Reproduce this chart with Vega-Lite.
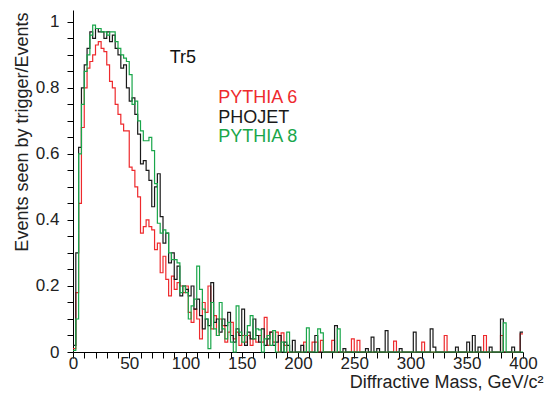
{
  "$schema": "https://vega.github.io/schema/vega-lite/v6.json",
  "width": 450,
  "height": 342,
  "autosize": {"type": "none"},
  "padding": {"left": 73, "top": 10, "right": 21, "bottom": 42},
  "background": "white",
  "config": {"view": {"stroke": null}, "font": "Liberation Sans"},
  "datasets": {
    "hist": [
      {"g":"PYTHIA 6","m":0,"f":0.01},{"g":"PYTHIA 6","m":2.5,"f":0.18},{"g":"PYTHIA 6","m":5,"f":0.45},{"g":"PYTHIA 6","m":7.5,"f":0.68},{"g":"PYTHIA 6","m":10,"f":0.8},{"g":"PYTHIA 6","m":12.5,"f":0.86},{"g":"PYTHIA 6","m":15,"f":0.88},{"g":"PYTHIA 6","m":17.5,"f":0.9},{"g":"PYTHIA 6","m":20,"f":0.93},{"g":"PYTHIA 6","m":22.5,"f":0.94},{"g":"PYTHIA 6","m":25,"f":0.92},{"g":"PYTHIA 6","m":27.5,"f":0.91},{"g":"PYTHIA 6","m":30,"f":0.87},{"g":"PYTHIA 6","m":32.5,"f":0.82},{"g":"PYTHIA 6","m":35,"f":0.8},{"g":"PYTHIA 6","m":37.5,"f":0.75},{"g":"PYTHIA 6","m":40,"f":0.72},{"g":"PYTHIA 6","m":42.5,"f":0.69},{"g":"PYTHIA 6","m":45,"f":0.67},{"g":"PYTHIA 6","m":47.5,"f":0.67},{"g":"PYTHIA 6","m":50,"f":0.56},{"g":"PYTHIA 6","m":52.5,"f":0.55},{"g":"PYTHIA 6","m":55,"f":0.5},{"g":"PYTHIA 6","m":57.5,"f":0.47},{"g":"PYTHIA 6","m":60,"f":0.36},{"g":"PYTHIA 6","m":62.5,"f":0.38},{"g":"PYTHIA 6","m":65,"f":0.4},{"g":"PYTHIA 6","m":67.5,"f":0.38},{"g":"PYTHIA 6","m":70,"f":0.37},{"g":"PYTHIA 6","m":72.5,"f":0.31},{"g":"PYTHIA 6","m":75,"f":0.33},{"g":"PYTHIA 6","m":77.5,"f":0.24},{"g":"PYTHIA 6","m":80,"f":0.29},{"g":"PYTHIA 6","m":82.5,"f":0.22},{"g":"PYTHIA 6","m":85,"f":0.17},{"g":"PYTHIA 6","m":87.5,"f":0.23},{"g":"PYTHIA 6","m":90,"f":0.19},{"g":"PYTHIA 6","m":92.5,"f":0.21},{"g":"PYTHIA 6","m":95,"f":0.2},{"g":"PYTHIA 6","m":97.5,"f":0.18},{"g":"PYTHIA 6","m":100,"f":0.2},{"g":"PYTHIA 6","m":102.5,"f":0.12},{"g":"PYTHIA 6","m":105,"f":0.09},{"g":"PYTHIA 6","m":107.5,"f":0.13},{"g":"PYTHIA 6","m":110,"f":0.1},{"g":"PYTHIA 6","m":112.5,"f":0.04},{"g":"PYTHIA 6","m":115,"f":0.15},{"g":"PYTHIA 6","m":117.5,"f":0.12},{"g":"PYTHIA 6","m":120,"f":0.2},{"g":"PYTHIA 6","m":122.5,"f":0.07},{"g":"PYTHIA 6","m":125,"f":0.11},{"g":"PYTHIA 6","m":127.5,"f":0.05},{"g":"PYTHIA 6","m":130,"f":0.1},{"g":"PYTHIA 6","m":132.5,"f":0.08},{"g":"PYTHIA 6","m":135,"f":0.03},{"g":"PYTHIA 6","m":137.5,"f":0.06},{"g":"PYTHIA 6","m":140,"f":0.09},{"g":"PYTHIA 6","m":142.5,"f":0.04},{"g":"PYTHIA 6","m":145,"f":0.06},{"g":"PYTHIA 6","m":147.5,"f":0.02},{"g":"PYTHIA 6","m":150,"f":0.05},{"g":"PYTHIA 6","m":152.5,"f":0.03},{"g":"PYTHIA 6","m":155,"f":0.05},{"g":"PYTHIA 6","m":157.5,"f":0.02},{"g":"PYTHIA 6","m":160,"f":0.04},{"g":"PYTHIA 6","m":162.5,"f":0.03},{"g":"PYTHIA 6","m":165,"f":0.05},{"g":"PYTHIA 6","m":167.5,"f":0.03},{"g":"PYTHIA 6","m":170,"f":0.105},{"g":"PYTHIA 6","m":172.5,"f":0.02},{"g":"PYTHIA 6","m":175,"f":0.06},{"g":"PYTHIA 6","m":177.5,"f":0.03},{"g":"PYTHIA 6","m":180,"f":0.06},{"g":"PYTHIA 6","m":182.5,"f":0},{"g":"PYTHIA 6","m":185,"f":0.058},{"g":"PYTHIA 6","m":187.5,"f":0.02},{"g":"PYTHIA 6","m":190,"f":0},{"g":"PYTHIA 6","m":205,"f":0.03},{"g":"PYTHIA 6","m":207.5,"f":0},{"g":"PYTHIA 6","m":212.5,"f":0.03},{"g":"PYTHIA 6","m":217.5,"f":0},{"g":"PYTHIA 6","m":220,"f":0.035},{"g":"PYTHIA 6","m":222.5,"f":0},{"g":"PYTHIA 6","m":230,"f":0.035},{"g":"PYTHIA 6","m":232.5,"f":0},{"g":"PYTHIA 6","m":247.5,"f":0.04},{"g":"PYTHIA 6","m":250,"f":0},{"g":"PYTHIA 6","m":252.5,"f":0.035},{"g":"PYTHIA 6","m":255,"f":0},{"g":"PYTHIA 6","m":285,"f":0.033},{"g":"PYTHIA 6","m":287.5,"f":0},{"g":"PYTHIA 6","m":310,"f":0.03},{"g":"PYTHIA 6","m":312.5,"f":0},{"g":"PYTHIA 6","m":330,"f":0.05},{"g":"PYTHIA 6","m":332.5,"f":0},{"g":"PYTHIA 6","m":365,"f":0.05},{"g":"PYTHIA 6","m":367.5,"f":0},{"g":"PYTHIA 6","m":380,"f":0.05},{"g":"PYTHIA 6","m":382.5,"f":0},{"g":"PYTHIA 6","m":397.5,"f":0.055},{"g":"PYTHIA 6","m":400,"f":0.055},

      {"g":"PHOJET","m":0,"f":0.02},{"g":"PHOJET","m":2.5,"f":0.3},{"g":"PHOJET","m":5,"f":0.62},{"g":"PHOJET","m":7.5,"f":0.8},{"g":"PHOJET","m":10,"f":0.87},{"g":"PHOJET","m":12.5,"f":0.92},{"g":"PHOJET","m":15,"f":0.97},{"g":"PHOJET","m":17.5,"f":0.95},{"g":"PHOJET","m":20,"f":0.98},{"g":"PHOJET","m":22.5,"f":0.97},{"g":"PHOJET","m":25,"f":0.97},{"g":"PHOJET","m":27.5,"f":0.95},{"g":"PHOJET","m":30,"f":0.97},{"g":"PHOJET","m":32.5,"f":0.94},{"g":"PHOJET","m":35,"f":0.96},{"g":"PHOJET","m":37.5,"f":0.92},{"g":"PHOJET","m":40,"f":0.9},{"g":"PHOJET","m":42.5,"f":0.86},{"g":"PHOJET","m":45,"f":0.87},{"g":"PHOJET","m":47.5,"f":0.8},{"g":"PHOJET","m":50,"f":0.76},{"g":"PHOJET","m":52.5,"f":0.77},{"g":"PHOJET","m":55,"f":0.72},{"g":"PHOJET","m":57.5,"f":0.66},{"g":"PHOJET","m":60,"f":0.57},{"g":"PHOJET","m":62.5,"f":0.58},{"g":"PHOJET","m":65,"f":0.55},{"g":"PHOJET","m":67.5,"f":0.52},{"g":"PHOJET","m":70,"f":0.44},{"g":"PHOJET","m":72.5,"f":0.5},{"g":"PHOJET","m":75,"f":0.54},{"g":"PHOJET","m":77.5,"f":0.41},{"g":"PHOJET","m":80,"f":0.33},{"g":"PHOJET","m":82.5,"f":0.36},{"g":"PHOJET","m":85,"f":0.27},{"g":"PHOJET","m":87.5,"f":0.3},{"g":"PHOJET","m":90,"f":0.22},{"g":"PHOJET","m":92.5,"f":0.26},{"g":"PHOJET","m":95,"f":0.17},{"g":"PHOJET","m":97.5,"f":0.2},{"g":"PHOJET","m":100,"f":0.19},{"g":"PHOJET","m":102.5,"f":0.17},{"g":"PHOJET","m":105,"f":0.2},{"g":"PHOJET","m":107.5,"f":0.13},{"g":"PHOJET","m":110,"f":0.16},{"g":"PHOJET","m":112.5,"f":0.11},{"g":"PHOJET","m":115,"f":0.07},{"g":"PHOJET","m":117.5,"f":0.1},{"g":"PHOJET","m":120,"f":0.08},{"g":"PHOJET","m":122.5,"f":0.21},{"g":"PHOJET","m":125,"f":0.09},{"g":"PHOJET","m":127.5,"f":0.1},{"g":"PHOJET","m":130,"f":0.06},{"g":"PHOJET","m":132.5,"f":0.1},{"g":"PHOJET","m":135,"f":0.08},{"g":"PHOJET","m":137.5,"f":0.12},{"g":"PHOJET","m":140,"f":0.05},{"g":"PHOJET","m":142.5,"f":0.03},{"g":"PHOJET","m":145,"f":0.07},{"g":"PHOJET","m":147.5,"f":0.05},{"g":"PHOJET","m":150,"f":0.13},{"g":"PHOJET","m":152.5,"f":0.02},{"g":"PHOJET","m":155,"f":0.06},{"g":"PHOJET","m":157.5,"f":0.04},{"g":"PHOJET","m":160,"f":0.1},{"g":"PHOJET","m":162.5,"f":0.05},{"g":"PHOJET","m":165,"f":0.03},{"g":"PHOJET","m":167.5,"f":0.07},{"g":"PHOJET","m":170,"f":0.02},{"g":"PHOJET","m":172.5,"f":0.04},{"g":"PHOJET","m":175,"f":0.06},{"g":"PHOJET","m":177.5,"f":0.02},{"g":"PHOJET","m":180,"f":0.03},{"g":"PHOJET","m":182.5,"f":0.05},{"g":"PHOJET","m":185,"f":0},{"g":"PHOJET","m":187.5,"f":0.03},{"g":"PHOJET","m":190,"f":0.02},{"g":"PHOJET","m":192.5,"f":0},{"g":"PHOJET","m":195,"f":0.035},{"g":"PHOJET","m":197.5,"f":0},{"g":"PHOJET","m":202.5,"f":0.02},{"g":"PHOJET","m":205,"f":0},{"g":"PHOJET","m":215,"f":0.05},{"g":"PHOJET","m":217.5,"f":0},{"g":"PHOJET","m":232.5,"f":0.08},{"g":"PHOJET","m":235,"f":0},{"g":"PHOJET","m":240,"f":0.01},{"g":"PHOJET","m":242.5,"f":0},{"g":"PHOJET","m":260,"f":0.01},{"g":"PHOJET","m":262.5,"f":0},{"g":"PHOJET","m":265,"f":0.045},{"g":"PHOJET","m":267.5,"f":0},{"g":"PHOJET","m":270,"f":0.01},{"g":"PHOJET","m":272.5,"f":0},{"g":"PHOJET","m":277.5,"f":0.065},{"g":"PHOJET","m":280,"f":0},{"g":"PHOJET","m":290,"f":0.01},{"g":"PHOJET","m":292.5,"f":0},{"g":"PHOJET","m":302.5,"f":0.06},{"g":"PHOJET","m":305,"f":0},{"g":"PHOJET","m":317.5,"f":0.07},{"g":"PHOJET","m":320,"f":0.015},{"g":"PHOJET","m":322.5,"f":0},{"g":"PHOJET","m":340,"f":0.015},{"g":"PHOJET","m":342.5,"f":0},{"g":"PHOJET","m":350,"f":0.03},{"g":"PHOJET","m":352.5,"f":0},{"g":"PHOJET","m":355,"f":0.05},{"g":"PHOJET","m":357.5,"f":0},{"g":"PHOJET","m":360,"f":0.015},{"g":"PHOJET","m":362.5,"f":0},{"g":"PHOJET","m":370,"f":0.015},{"g":"PHOJET","m":372.5,"f":0},{"g":"PHOJET","m":380,"f":0.1},{"g":"PHOJET","m":382.5,"f":0},{"g":"PHOJET","m":390,"f":0.015},{"g":"PHOJET","m":392.5,"f":0},{"g":"PHOJET","m":397.5,"f":0.06},{"g":"PHOJET","m":400,"f":0.06},

      {"g":"PYTHIA 8","m":0,"f":0.005},{"g":"PYTHIA 8","m":2.5,"f":0.1},{"g":"PYTHIA 8","m":5,"f":0.6},{"g":"PYTHIA 8","m":7.5,"f":0.75},{"g":"PYTHIA 8","m":10,"f":0.85},{"g":"PYTHIA 8","m":12.5,"f":0.9},{"g":"PYTHIA 8","m":15,"f":0.96},{"g":"PYTHIA 8","m":17.5,"f":0.99},{"g":"PYTHIA 8","m":20,"f":0.98},{"g":"PYTHIA 8","m":22.5,"f":0.98},{"g":"PYTHIA 8","m":25,"f":0.97},{"g":"PYTHIA 8","m":27.5,"f":0.97},{"g":"PYTHIA 8","m":30,"f":0.96},{"g":"PYTHIA 8","m":32.5,"f":0.97},{"g":"PYTHIA 8","m":35,"f":0.97},{"g":"PYTHIA 8","m":37.5,"f":0.94},{"g":"PYTHIA 8","m":40,"f":0.92},{"g":"PYTHIA 8","m":42.5,"f":0.9},{"g":"PYTHIA 8","m":45,"f":0.89},{"g":"PYTHIA 8","m":47.5,"f":0.88},{"g":"PYTHIA 8","m":50,"f":0.84},{"g":"PYTHIA 8","m":52.5,"f":0.75},{"g":"PYTHIA 8","m":55,"f":0.76},{"g":"PYTHIA 8","m":57.5,"f":0.7},{"g":"PYTHIA 8","m":60,"f":0.67},{"g":"PYTHIA 8","m":62.5,"f":0.64},{"g":"PYTHIA 8","m":65,"f":0.64},{"g":"PYTHIA 8","m":67.5,"f":0.65},{"g":"PYTHIA 8","m":70,"f":0.61},{"g":"PYTHIA 8","m":72.5,"f":0.51},{"g":"PYTHIA 8","m":75,"f":0.39},{"g":"PYTHIA 8","m":77.5,"f":0.36},{"g":"PYTHIA 8","m":80,"f":0.37},{"g":"PYTHIA 8","m":82.5,"f":0.36},{"g":"PYTHIA 8","m":85,"f":0.3},{"g":"PYTHIA 8","m":87.5,"f":0.28},{"g":"PYTHIA 8","m":90,"f":0.28},{"g":"PYTHIA 8","m":92.5,"f":0.27},{"g":"PYTHIA 8","m":95,"f":0.18},{"g":"PYTHIA 8","m":97.5,"f":0.2},{"g":"PYTHIA 8","m":100,"f":0.18},{"g":"PYTHIA 8","m":102.5,"f":0.1},{"g":"PYTHIA 8","m":105,"f":0.14},{"g":"PYTHIA 8","m":107.5,"f":0.16},{"g":"PYTHIA 8","m":110,"f":0.26},{"g":"PYTHIA 8","m":112.5,"f":0.19},{"g":"PYTHIA 8","m":115,"f":0.13},{"g":"PYTHIA 8","m":117.5,"f":0.1},{"g":"PYTHIA 8","m":120,"f":0.01},{"g":"PYTHIA 8","m":122.5,"f":0.15},{"g":"PYTHIA 8","m":125,"f":0.07},{"g":"PYTHIA 8","m":127.5,"f":0.05},{"g":"PYTHIA 8","m":130,"f":0.15},{"g":"PYTHIA 8","m":132.5,"f":0.07},{"g":"PYTHIA 8","m":135,"f":0.04},{"g":"PYTHIA 8","m":137.5,"f":0.09},{"g":"PYTHIA 8","m":140,"f":0.03},{"g":"PYTHIA 8","m":142.5,"f":0},{"g":"PYTHIA 8","m":145,"f":0.14},{"g":"PYTHIA 8","m":147.5,"f":0.06},{"g":"PYTHIA 8","m":150,"f":0.03},{"g":"PYTHIA 8","m":152.5,"f":0.05},{"g":"PYTHIA 8","m":155,"f":0.08},{"g":"PYTHIA 8","m":157.5,"f":0.11},{"g":"PYTHIA 8","m":160,"f":0.04},{"g":"PYTHIA 8","m":162.5,"f":0.07},{"g":"PYTHIA 8","m":165,"f":0.067},{"g":"PYTHIA 8","m":167.5,"f":0},{"g":"PYTHIA 8","m":170,"f":0.04},{"g":"PYTHIA 8","m":172.5,"f":0.05},{"g":"PYTHIA 8","m":175,"f":0.02},{"g":"PYTHIA 8","m":177.5,"f":0.065},{"g":"PYTHIA 8","m":180,"f":0},{"g":"PYTHIA 8","m":185,"f":0.03},{"g":"PYTHIA 8","m":187.5,"f":0},{"g":"PYTHIA 8","m":190,"f":0.06},{"g":"PYTHIA 8","m":192.5,"f":0},{"g":"PYTHIA 8","m":207.5,"f":0.073},{"g":"PYTHIA 8","m":210,"f":0},{"g":"PYTHIA 8","m":217.5,"f":0.07},{"g":"PYTHIA 8","m":220,"f":0.058},{"g":"PYTHIA 8","m":222.5,"f":0},{"g":"PYTHIA 8","m":235,"f":0.07},{"g":"PYTHIA 8","m":237.5,"f":0},{"g":"PYTHIA 8","m":382.5,"f":0.088},{"g":"PYTHIA 8","m":385,"f":0},{"g":"PYTHIA 8","m":400,"f":0}
    ],
    "labels": [
      {"g": "PYTHIA 6", "m": 129, "f": 0.77},
      {"g": "PHOJET", "m": 129, "f": 0.709},
      {"g": "PYTHIA 8", "m": 129, "f": 0.652}
    ],
    "title": [{"t": "Tr5", "m": 86, "f": 0.891}],
    "edge": [{"m": 400}]
  },
  "encoding": {
    "x": {
      "field": "m", "type": "quantitative",
      "scale": {"domain": [0, 400], "nice": false, "zero": false},
      "axis": {
        "values": [0,10,20,30,40,50,60,70,80,90,100,110,120,130,140,150,160,170,180,190,200,210,220,230,240,250,260,270,280,290,300,310,320,330,340,350,360,370,380,390,400],
        "labelExpr": "datum.value % 50 === 0 ? '' + datum.value : ''",
        "ticks": true,
        "tickSize": 6,
        "labelPadding": -3,
        "labelFlush": false,
        "labelOverlap": false,
        "grid": false,
        "domainColor": "#000",
        "tickColor": "#000",
        "tickWidth": 1,
        "labelFontSize": 17,
        "labelColor": "#222",
        "title": "Diffractive Mass, GeV/c²",
        "titleFontSize": 18,
        "titleFontWeight": "normal",
        "titleColor": "#222",
        "titleAnchor": "end",
        "titleAlign": "right",
        "titleBaseline": "alphabetic",
        "titleX": 470,
        "titleY": 35,
        "encode": {"ticks": {"update": {"y2": {"signal": "datum.value % 50 === 0 ? -11 : -6"}}}}
      }
    },
    "y": {
      "field": "f", "type": "quantitative",
      "scale": {"domain": [0, 1.036], "nice": false},
      "axis": {
        "values": [0,0.05,0.1,0.15,0.2,0.25,0.3,0.35,0.4,0.45,0.5,0.55,0.6,0.65,0.7,0.75,0.8,0.85,0.9,0.95,1],
        "labelExpr": "round(datum.value*100) % 20 === 0 ? format(datum.value, '~g') : ''",
        "ticks": true,
        "tickSize": 6,
        "labelPadding": 8,
        "labelFlush": false,
        "labelOverlap": false,
        "grid": false,
        "domainColor": "#000",
        "tickColor": "#000",
        "tickWidth": 1,
        "labelFontSize": 17,
        "labelColor": "#222",
        "title": "Events seen by trigger/Events",
        "titleFontSize": 18,
        "titleFontWeight": "normal",
        "titleColor": "#222",
        "titleAnchor": "end",
        "titleAlign": "right",
        "titleBaseline": "middle",
        "titleAngle": -90,
        "titleX": -51,
        "titleY": 2,
        "encode": {"ticks": {"update": {"x2": {"signal": "round(datum.value*100) % 20 === 0 ? 12 : 6"}}}}
      }
    }
  },
  "layer": [
    {
      "data": {"name": "hist"},
      "mark": {"type": "line", "interpolate": "step-after", "strokeWidth": 1.2},
      "encoding": {
        "color": {
          "field": "g", "type": "nominal",
          "scale": {"domain": ["PYTHIA 6", "PHOJET", "PYTHIA 8"], "range": ["#ee2a2d", "#1a1a1a", "#19a64a"]},
          "legend": null
        }
      }
    },
    {
      "data": {"name": "edge"},
      "mark": {"type": "rule", "color": "#9a9a9a", "strokeWidth": 1},
      "encoding": {"y": {"datum": 0}, "y2": {"datum": 1.036}}
    },
    {
      "data": {"name": "labels"},
      "mark": {"type": "text", "align": "left", "baseline": "middle", "fontSize": 18},
      "encoding": {
        "text": {"field": "g"},
        "color": {"field": "g", "type": "nominal", "legend": null}
      }
    },
    {
      "data": {"name": "title"},
      "mark": {"type": "text", "align": "left", "baseline": "middle", "fontSize": 18, "color": "#111"},
      "encoding": {"text": {"field": "t"}}
    }
  ]
}
